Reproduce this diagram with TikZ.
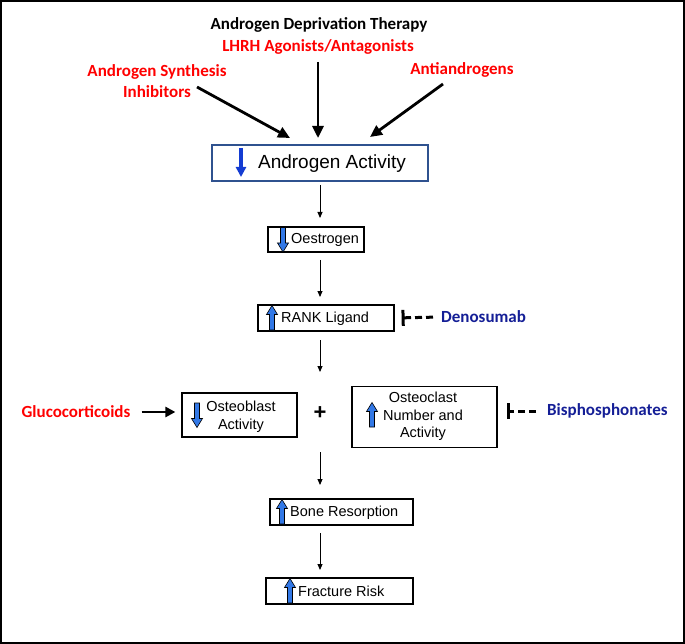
\documentclass[tikz,border=0pt]{standalone}
\usepackage{fontspec}
\setmainfont{Liberation Sans}
\newfontfamily\calib{Carlito}
\usetikzlibrary{arrows.meta}
\definecolor{redtxt}{RGB}{255,0,0}
\definecolor{navy}{RGB}{20,30,150}
\definecolor{boxblue}{RGB}{47,82,143}
\definecolor{iconblue}{RGB}{50,120,230}
\definecolor{arrblue}{RGB}{20,60,210}
\begin{document}
\begin{tikzpicture}[x=1pt,y=-1pt,
  lab/.style={font=\calib\bfseries\fontsize{17}{21}\selectfont, inner sep=0pt, align=center},
  box/.style={draw=black, line width=1.2pt, inner sep=0pt},
  btxt/.style={font=\fontsize{14.5}{17.5}\selectfont, inner sep=0pt, align=center},
  bigarr/.style={line width=2.8pt, -{Triangle[length=12pt,width=11pt]}},
  thinarr/.style={line width=0.9pt, -{Triangle[length=6pt,width=5pt]}},
  inhib/.style={line width=3pt, dash pattern=on 7pt off 4pt, -{Bar[width=16pt]}},
  upicon/.pic={\draw[fill=iconblue, line width=0.6pt] (-2.5,12) -- (-2.5,-3.5) -- (-5.5,-3.5) -- (0,-12.5) -- (5.5,-3.5) -- (2.5,-3.5) -- (2.5,12) -- cycle;},
  downicon/.pic={\draw[fill=iconblue, line width=0.6pt] (-2.5,-12) -- (-2.5,3.5) -- (-5.5,3.5) -- (0,12.5) -- (5.5,3.5) -- (2.5,3.5) -- (2.5,-12) -- cycle;}
]
\useasboundingbox (0,0) rectangle (685,644);
\draw[line width=2pt] (1,1) rectangle (684,643);

% top labels
\node[lab] (adt) at (319,25) {Androgen Deprivation Therapy};
\node[lab, text=redtxt] (lhrh) at (318,47) {LHRH Agonists/Antagonists};
\node[lab, text=redtxt] (asi) at (157,81) {Androgen Synthesis\\Inhibitors};
\node[lab, text=redtxt] (anti) at (462,70) {Antiandrogens};

% androgen activity
\node[box, draw=boxblue, line width=1.8pt, minimum width=216pt, minimum height=36pt] (aa) at (320,163) {};
\node[font=\fontsize{19}{22}\selectfont, inner sep=0pt] (aat) at (332,164) {Androgen Activity};
\draw[arrblue, line width=3.2pt, -{Triangle[length=10pt,width=10pt]}] (241,148) -- (241,177);

\coordinate (m1) at (318,62); \coordinate (m2) at (318,138);
\coordinate (l1) at (197,87); \coordinate (l2) at (290,138);
\coordinate (r1) at (443,84); \coordinate (r2) at (370,137);
\draw[bigarr] (m1) -- (m2);
\draw[bigarr] (l1) -- (l2);
\draw[bigarr] (r1) -- (r2);

% oestrogen
\node[box, minimum width=96pt, minimum height=25pt] (oe) at (316,239.5) {};
\node[btxt, anchor=west] (oet) at (291,240) {Oestrogen};
\pic at (283,239.5) {downicon};

% rank ligand
\node[box, minimum width=136pt, minimum height=26pt] (rank) at (326,318) {};
\node[btxt, anchor=west] (rankt) at (281,318.5) {RANK Ligand};
\pic at (272,318) {upicon};
\node[lab, text=navy, anchor=west] (deno) at (441,317) {Denosumab};
\draw[inhib, shorten <=8pt, shorten >=7pt] (deno.west) -- (rank.east);

% osteoblast / osteoclast
\node[box, minimum width=115pt, minimum height=44pt] (ob) at (239.5,415) {};
\node[btxt] (obt) at (241,416.5) {Osteoblast\\Activity};
\pic at (197,415) {downicon};
\node[lab, text=redtxt] (gluco) at (76,412) {Glucocorticoids};
\draw[line width=2.8pt, -{Triangle[length=10pt,width=10pt]}, shorten <=11pt, shorten >=6pt] (gluco.east) -- (gluco.east -| ob.west);

\node[font=\bfseries\fontsize{22}{22}\selectfont, inner sep=0pt] (plus) at (320,413) {+};

\node[box, minimum width=145pt, minimum height=61pt] (oc) at (424.5,417) {};
\node[btxt] (oct) at (423,416.5) {Osteoclast\\Number and\\Activity};
\pic at (372,415) {upicon};
\node[lab, text=navy, anchor=west] (bis) at (547,411) {Bisphosphonates};
\draw[inhib, shorten <=11pt, shorten >=9pt] (bis.west) -- (bis.west -| oc.east);

% bone resorption / fracture
\node[box, minimum width=143pt, minimum height=26pt] (bone) at (341.5,512) {};
\node[btxt, anchor=west] (bonet) at (290,512.5) {Bone Resorption};
\pic at (282,512) {upicon};

\node[box, minimum width=147pt, minimum height=26pt] (fr) at (339.5,591) {};
\node[btxt, anchor=west] (frt) at (298,591.5) {Fracture Risk};
\pic at (290,591) {upicon};

% vertical thin arrows
\coordinate (v1) at (320,185); \coordinate (v2) at (320,218);
\coordinate (v3) at (320,260); \coordinate (v4) at (320,297);
\coordinate (v5) at (320,340); \coordinate (v6) at (320,372);
\coordinate (v7) at (320,452); \coordinate (v8) at (320,485);
\coordinate (v9) at (320,533); \coordinate (v10) at (320,570);
\draw[thinarr] (v1) -- (v2);
\draw[thinarr] (v3) -- (v4);
\draw[thinarr] (v5) -- (v6);
\draw[thinarr] (v7) -- (v8);
\draw[thinarr] (v9) -- (v10);
\end{tikzpicture}
\end{document}
